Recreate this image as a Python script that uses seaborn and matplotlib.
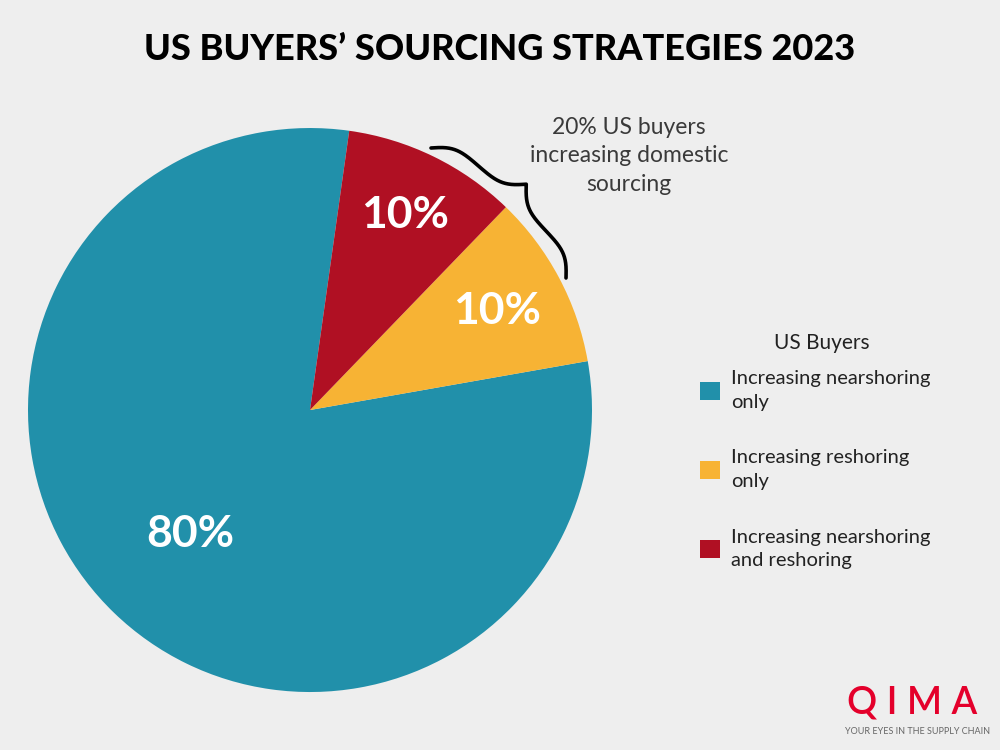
import numpy as np
import seaborn as sns
import matplotlib.pyplot as plt

# data
categories = ['Increasing nearshoring\nonly', 'Increasing reshoring\nonly', 'Increasing nearshoring\nand reshoring']
shares = [80, 10, 10]
pct_labels = ['80%', '10%', '10%']
colors = sns.color_palette(['#2190AA', '#F7B334', '#B01023'])
label_radius = [0.61, 0.75, 0.77]

bg = '#EEEEEE'
sns.set_theme(style='white', rc={'figure.facecolor': bg, 'axes.facecolor': bg})
plt.rcParams['font.family'] = ['Lato', 'DejaVu Sans']

fig = plt.figure(figsize=(10, 7.5), dpi=100)
ax = fig.add_axes([0.028, 0.0773, 0.564, 0.752])

wedges, _ = ax.pie(shares, colors=colors, startangle=82, counterclock=True,
                   wedgeprops={'linewidth': 0})
ax.set_xlim(-1, 1)
ax.set_ylim(-1, 1)
ax.set_aspect('equal')

# percentage labels inside wedges
for w, lab, r in zip(wedges, pct_labels, label_radius):
    mid = np.deg2rad((w.theta1 + w.theta2) / 2)
    ax.text(r * np.cos(mid), r * np.sin(mid), lab, ha='center', va='center',
            color='white', fontsize=32, fontweight='bold')

# curly brace over red + yellow wedges (figure pixel coords)
def brace(p1, p2, depth, beta=0.11, n=301):
    p1, p2 = np.array(p1, float), np.array(p2, float)
    L = np.linalg.norm(p2 - p1)
    x = np.linspace(0, L, n)
    xh = x[:n // 2 + 1]
    yh = (1 / (1 + np.exp(-beta * (xh - xh[0]))) + 1 / (1 + np.exp(-beta * (xh - xh[-1]))))
    y = np.concatenate((yh, yh[-2::-1]))
    y = (y - 0.5) * depth
    u = (p2 - p1) / L
    nrm = np.array([-u[1], u[0]])
    pts = p1 + np.outer(x, u) + np.outer(y, nrm)
    return pts

pts = brace((431, 602), (566, 472), 40)
fig.lines.append(plt.Line2D(pts[:, 0] / 1000, pts[:, 1] / 750, transform=fig.transFigure,
                            color='black', lw=2.6, solid_capstyle='round'))

fig.text(0.629, 0.792, '20% US buyers\nincreasing domestic\nsourcing', ha='center', va='center',
         fontsize=16.5, color='#3a3a3a', fontweight='normal', linespacing=1.45)

# title
fig.text(0.5, 0.934, 'US BUYERS\u2019 SOURCING STRATEGIES 2023', ha='center', va='center',
         fontsize=26, fontweight='black', color='black')

# legend
fig.text(0.822, 0.543, 'US Buyers', ha='center', va='center', fontsize=15, color='#222222')
leg = fig.legend(wedges, categories, loc='upper left',
                 bbox_to_anchor=(0.692, 0.517), frameon=False, fontsize=14.5,
                 handlelength=1.0, handleheight=1.0,
                 handletextpad=0.55, labelspacing=1.93, borderaxespad=0)
for t in leg.get_texts():
    t.set_linespacing(1.45)
    t.set_color('#222222')

# logo
fig.text(0.912, 0.063, 'Q I M A', ha='center', va='center', fontsize=27,
         color='#E4002B', fontweight='semibold')
fig.text(0.918, 0.025, 'YOUR EYES IN THE SUPPLY CHAIN', ha='center', va='center',
         fontsize=6.5, color='#666666')

fig.savefig('out.png', dpi=100, facecolor=bg)
